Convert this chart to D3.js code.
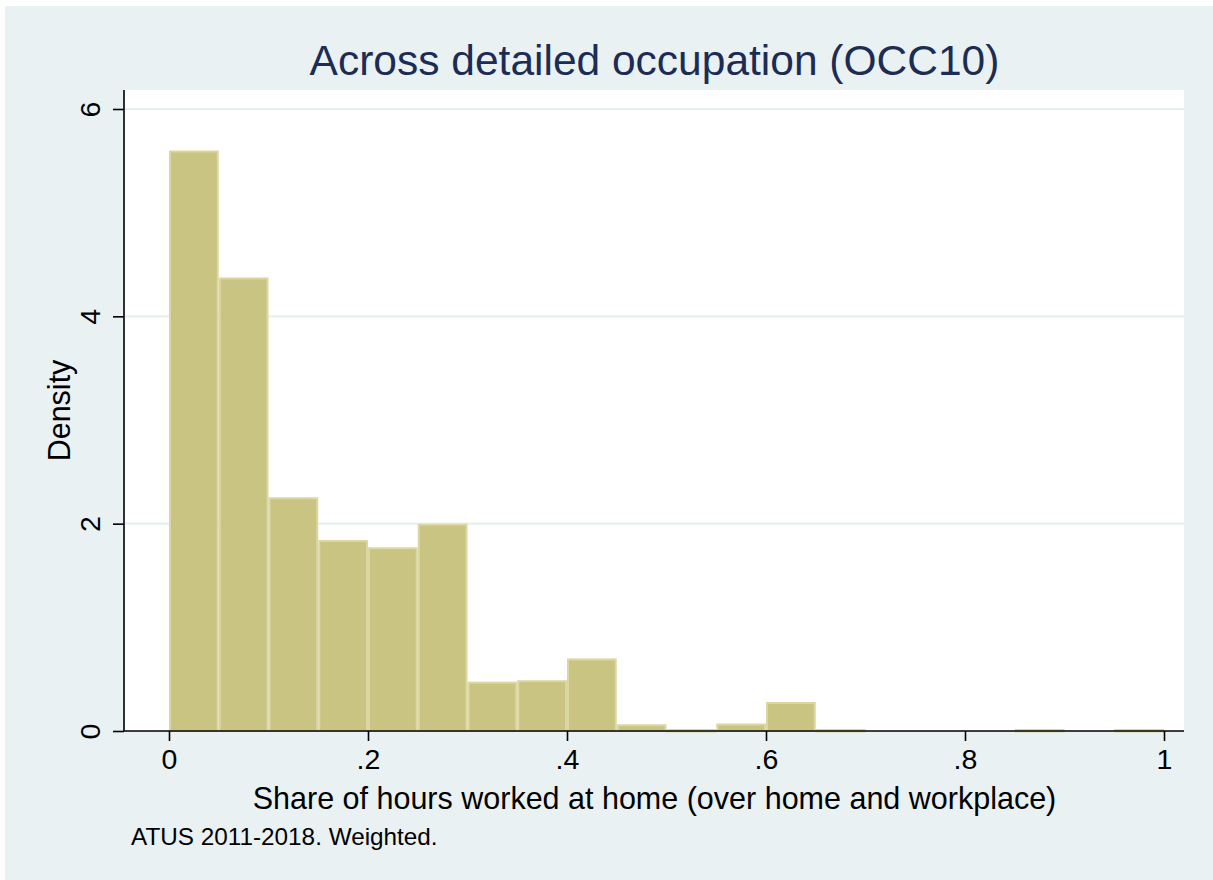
<!DOCTYPE html>
<html>
<head>
<meta charset="utf-8">
<script src="https://cdn.jsdelivr.net/npm/d3@7"></script>
<style>
  html, body { margin: 0; padding: 0; background: #ffffff; }
  svg { display: block; }
  text { font-family: "Liberation Sans", Arial, Helvetica, sans-serif; }
</style>
</head>
<body>
<script>
// ---- data ----
const binStarts = [0, 0.05, 0.10, 0.15, 0.20, 0.25, 0.30, 0.35, 0.40, 0.45,
                   0.50, 0.55, 0.60, 0.65, 0.70, 0.75, 0.80, 0.85, 0.90, 0.95];
const binWidth = 0.05;
const density = [5.60, 4.375, 2.255, 1.842, 1.772, 2.00, 0.476, 0.49, 0.70, 0.065,
                 0.005, 0.072, 0.28, 0.005, 0, 0, 0, 0.005, 0, 0.005];
const xTicks = [0, 0.2, 0.4, 0.6, 0.8, 1];
const xTickLabels = ["0", ".2", ".4", ".6", ".8", "1"];
const yTicks = [0, 2, 4, 6];
const yTickLabels = ["0", "2", "4", "6"];
const titleText = "Across detailed occupation (OCC10)";
const xLabel = "Share of hours worked at home (over home and workplace)";
const yLabel = "Density";
const note = "ATUS 2011-2018. Weighted.";

// ---- layout ----
const W = 1213, H = 880;
const plot = { left: 125, right: 1184, top: 90, bottom: 731 };

const svg = d3.select("body").append("svg").attr("width", W).attr("height", H);

svg.append("rect").attr("x", 0).attr("y", 0).attr("width", W).attr("height", H).attr("fill", "#ffffff");
svg.append("rect").attr("x", 5).attr("y", 6).attr("width", W - 5).attr("height", H - 6).attr("fill", "#e9f1f3");
svg.append("rect").attr("x", plot.left).attr("y", plot.top)
  .attr("width", plot.right - plot.left).attr("height", plot.bottom - plot.top).attr("fill", "#ffffff");

const x = d3.scaleLinear().domain([0, 1]).range([169, 1164]);
const y = d3.scaleLinear().domain([0, 6]).range([731, 109]);

// gridlines
svg.append("g").selectAll("line").data(yTicks.filter(d => d > 0)).join("line")
  .attr("x1", plot.left).attr("x2", plot.right)
  .attr("y1", d => y(d)).attr("y2", d => y(d))
  .attr("stroke", "#e6eff1").attr("stroke-width", 2.2);

// bars
const bars = binStarts.map((s, i) => ({ x0: s, x1: s + binWidth, v: density[i] }));
svg.append("g").selectAll("rect").data(bars).join("rect")
  .attr("x", d => x(d.x0) + 1)
  .attr("width", d => x(d.x1) - x(d.x0) - 2)
  .attr("y", d => Math.min(y(d.v) + 1, y(0) - 1))
  .attr("height", d => Math.max(1.5, y(0) - y(d.v) - 1))
  .attr("fill", "#cac482")
  .attr("stroke", "#dbd7a2")
  .attr("stroke-width", 2)
  .attr("display", d => d.v > 0 ? null : "none");

// axes
const xAxis = d3.axisBottom(x).tickValues(xTicks).tickFormat((d, i) => xTickLabels[i]).tickSize(10).tickPadding(8);
const gx = svg.append("g").attr("transform", `translate(0,${plot.bottom})`).call(xAxis);
gx.select(".domain").remove();
gx.append("line").attr("x1", plot.left - 1).attr("x2", plot.right).attr("y1", 0).attr("y2", 0)
  .attr("stroke", "#000").attr("stroke-width", 1.6);
gx.selectAll(".tick line").attr("stroke", "#000").attr("stroke-width", 1.6);
gx.selectAll(".tick text").attr("fill", "#000").attr("font-size", 28.5)
  .attr("font-family", "'Liberation Sans', Arial, sans-serif");

const yAxis = d3.axisLeft(y).tickValues(yTicks).tickFormat((d, i) => yTickLabels[i]).tickSize(11).tickPadding(6);
const gy = svg.append("g").attr("transform", `translate(${plot.left - 1},0)`).call(yAxis);
gy.select(".domain").remove();
gy.append("line").attr("x1", 0).attr("x2", 0).attr("y1", plot.top).attr("y2", plot.bottom)
  .attr("stroke", "#000").attr("stroke-width", 1.6);
gy.selectAll(".tick line").attr("stroke", "#000").attr("stroke-width", 1.6);
gy.selectAll(".tick text")
  .attr("fill", "#000").attr("font-size", 28.5)
  .attr("font-family", "'Liberation Sans', Arial, sans-serif")
  .attr("x", null).attr("dy", null)
  .attr("text-anchor", "middle")
  .attr("transform", "translate(-24,0) rotate(-90)");

// title
const cx = (plot.left + plot.right) / 2;
svg.append("text").attr("x", cx).attr("y", 75).attr("text-anchor", "middle")
  .attr("font-size", 42.5).attr("fill", "#1c2c55").text(titleText);

// x label
svg.append("text").attr("x", cx).attr("y", 809).attr("text-anchor", "middle")
  .attr("font-size", 30.5).attr("fill", "#000").text(xLabel);

// y label
svg.append("text").attr("transform", `translate(70,${(plot.top + plot.bottom) / 2}) rotate(-90)`)
  .attr("text-anchor", "middle").attr("font-size", 30.5).attr("fill", "#000").text(yLabel);

// note
svg.append("text").attr("x", 131).attr("y", 845).attr("font-size", 24.3).attr("fill", "#000").text(note);
</script>
</body>
</html>
